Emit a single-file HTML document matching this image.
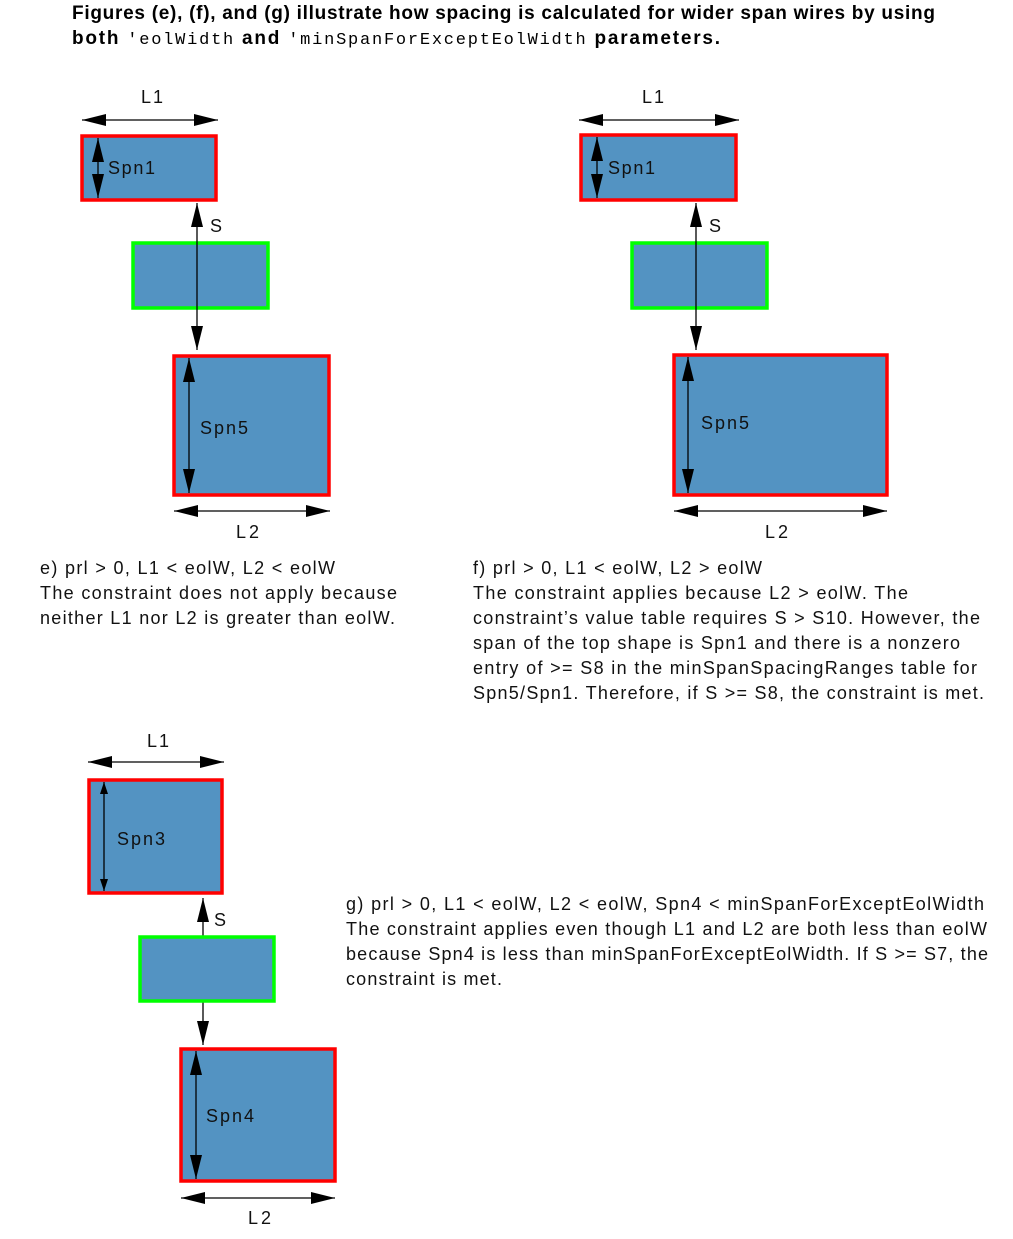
<!DOCTYPE html>
<html><head><meta charset="utf-8"><style>
body{margin:0;background:#fff;}
svg{display:block;font-family:"Liberation Sans",Arial,sans-serif;}
.t{font-size:18px;fill:#111;}
.b{fill:#5393c2;stroke-width:3.5;}
.r{stroke:#f00;}.g{stroke:#0f0;}
.l{stroke:#000;stroke-width:1.3;}
</style></head><body>
<svg width="1013" height="1239" viewBox="0 0 1013 1239">
<defs>
<marker id="A" markerWidth="24" markerHeight="12" refX="24" refY="6" orient="auto-start-reverse" markerUnits="userSpaceOnUse" viewBox="0 0 24 12"><path d="M0,0L24,6L0,12z"/></marker>
<marker id="m" markerWidth="12" markerHeight="8" refX="12" refY="4" orient="auto-start-reverse" markerUnits="userSpaceOnUse" viewBox="0 0 12 8"><path d="M0,0L12,4L0,8z"/></marker>
</defs>
<text x="72" y="19" textLength="863" lengthAdjust="spacing" style="font-size:19px;font-weight:bold">Figures (e), (f), and (g) illustrate how spacing is calculated for wider span wires by using</text>
<text x="72" y="44" textLength="648" lengthAdjust="spacing" style="font-size:19px;font-weight:bold">both <tspan style="font-family:'Liberation Mono',monospace;font-weight:normal;font-size:17px">'eolWidth</tspan> and <tspan style="font-family:'Liberation Mono',monospace;font-weight:normal;font-size:17px">'minSpanForExceptEolWidth</tspan> parameters.</text>

<!-- fig e -->
<text class="t" x="141" y="103" textLength="22">L1</text>
<line class="l" x1="82" y1="120" x2="218" y2="120" marker-start="url(#A)" marker-end="url(#A)"/>
<rect class="b r" x="82" y="136" width="134" height="64"/>
<line class="l" x1="98" y1="138" x2="98" y2="198" marker-start="url(#A)" marker-end="url(#A)"/>
<text class="t" x="108" y="174" textLength="47">Spn1</text>
<rect class="b g" x="133" y="243" width="135" height="65"/>
<line class="l" x1="197" y1="203" x2="197" y2="350" marker-start="url(#A)" marker-end="url(#A)"/>
<text class="t" x="210" y="232">S</text>
<rect class="b r" x="174" y="356" width="155" height="139"/>
<line class="l" x1="189" y1="358" x2="189" y2="493" marker-start="url(#A)" marker-end="url(#A)"/>
<text class="t" x="200" y="434" textLength="48">Spn5</text>
<line class="l" x1="174" y1="511" x2="330" y2="511" marker-start="url(#A)" marker-end="url(#A)"/>
<text class="t" x="236" y="538" textLength="23">L2</text>
<text class="t" x="40" y="574" textLength="295" lengthAdjust="spacing">e) prl &gt; 0, L1 &lt; eolW, L2 &lt; eolW</text>
<text class="t" x="40" y="599" textLength="357" lengthAdjust="spacing">The constraint does not apply because</text>
<text class="t" x="40" y="624" textLength="355" lengthAdjust="spacing">neither L1 nor L2 is greater than eolW.</text>

<!-- fig f -->
<text class="t" x="642" y="103" textLength="22">L1</text>
<line class="l" x1="579" y1="120" x2="739" y2="120" marker-start="url(#A)" marker-end="url(#A)"/>
<rect class="b r" x="581" y="135" width="155" height="65"/>
<line class="l" x1="597" y1="137" x2="597" y2="198" marker-start="url(#A)" marker-end="url(#A)"/>
<text class="t" x="608" y="174" textLength="47">Spn1</text>
<rect class="b g" x="632" y="243" width="135" height="65"/>
<line class="l" x1="696" y1="203" x2="696" y2="350" marker-start="url(#A)" marker-end="url(#A)"/>
<text class="t" x="709" y="232">S</text>
<rect class="b r" x="674" y="355" width="213" height="140"/>
<line class="l" x1="688" y1="357" x2="688" y2="493" marker-start="url(#A)" marker-end="url(#A)"/>
<text class="t" x="701" y="429" textLength="48">Spn5</text>
<line class="l" x1="674" y1="511" x2="887" y2="511" marker-start="url(#A)" marker-end="url(#A)"/>
<text class="t" x="765" y="538" textLength="23">L2</text>
<text class="t" x="473" y="574" textLength="289" lengthAdjust="spacing">f) prl &gt; 0, L1 &lt; eolW, L2 &gt; eolW</text>
<text class="t" x="473" y="599" textLength="435" lengthAdjust="spacing">The constraint applies because L2 &gt; eolW. The</text>
<text class="t" x="473" y="624" textLength="507" lengthAdjust="spacing">constraint’s value table requires S &gt; S10. However, the</text>
<text class="t" x="473" y="649" textLength="487" lengthAdjust="spacing">span of the top shape is Spn1 and there is a nonzero</text>
<text class="t" x="473" y="674" textLength="504" lengthAdjust="spacing">entry of &gt;= S8 in the minSpanSpacingRanges table for</text>
<text class="t" x="473" y="699" textLength="511" lengthAdjust="spacing">Spn5/Spn1. Therefore, if S &gt;= S8, the constraint is met.</text>

<!-- fig g -->
<text class="t" x="147" y="747" textLength="22">L1</text>
<line class="l" x1="88" y1="762" x2="224" y2="762" marker-start="url(#A)" marker-end="url(#A)"/>
<rect class="b r" x="89" y="780" width="133" height="113"/>
<line class="l" x1="104" y1="782" x2="104" y2="891" marker-start="url(#m)" marker-end="url(#m)"/>
<text class="t" x="117" y="845" textLength="48">Spn3</text>
<line class="l" x1="203" y1="898" x2="203" y2="1045" marker-start="url(#A)" marker-end="url(#A)"/>
<text class="t" x="214" y="926">S</text>
<rect class="b g" x="140" y="937" width="134" height="64"/>
<rect class="b r" x="181" y="1049" width="154" height="132"/>
<line class="l" x1="196" y1="1051" x2="196" y2="1179" marker-start="url(#A)" marker-end="url(#A)"/>
<text class="t" x="206" y="1122" textLength="48">Spn4</text>
<line class="l" x1="181" y1="1198" x2="335" y2="1198" marker-start="url(#A)" marker-end="url(#A)"/>
<text class="t" x="248" y="1224" textLength="23">L2</text>
<text class="t" x="346" y="910" textLength="638" lengthAdjust="spacing">g) prl &gt; 0, L1 &lt; eolW, L2 &lt; eolW, Spn4 &lt; minSpanForExceptEolWidth</text>
<text class="t" x="346" y="935" textLength="641" lengthAdjust="spacing">The constraint applies even though L1 and L2 are both less than eolW</text>
<text class="t" x="346" y="960" textLength="642" lengthAdjust="spacing">because Spn4 is less than minSpanForExceptEolWidth. If S &gt;= S7, the</text>
<text class="t" x="346" y="985" textLength="156" lengthAdjust="spacing">constraint is met.</text>
</svg>
</body></html>
